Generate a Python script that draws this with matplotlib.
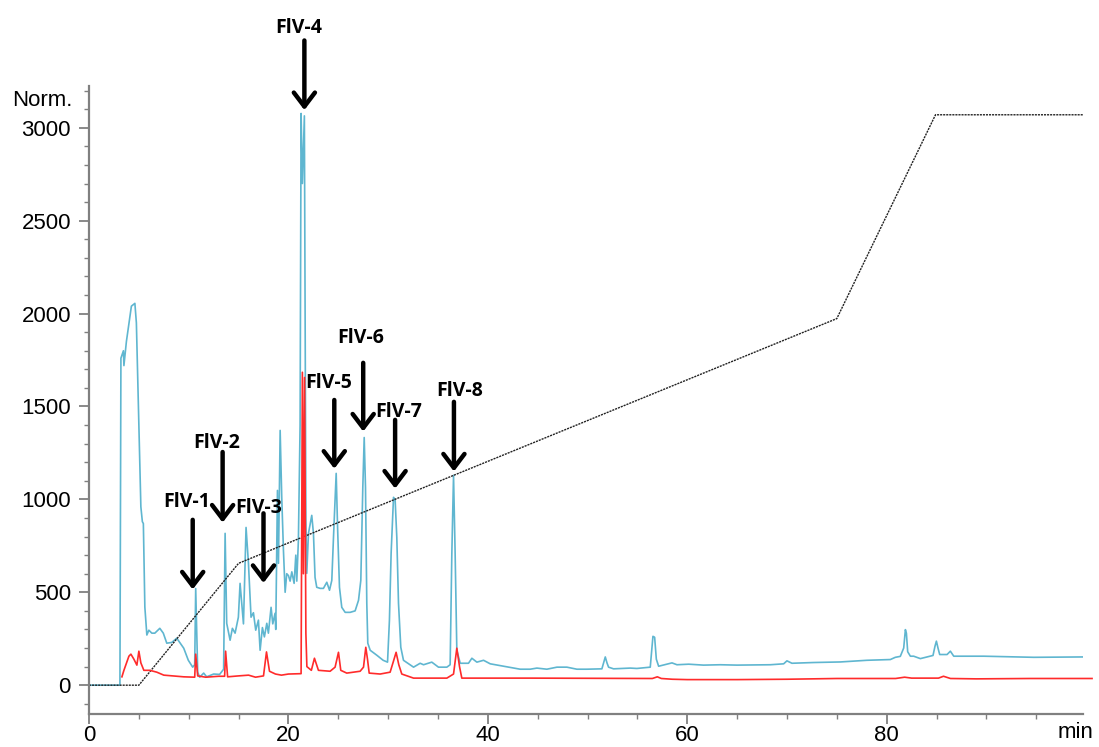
import matplotlib

matplotlib.use("Agg")
import matplotlib.pyplot as plt
from matplotlib.ticker import MultipleLocator

# detector trace 1 (cyan), time in min / signal in Norm.
cyan_time = [
    0.0, 3.1, 3.2, 3.45, 3.5, 3.75, 4.25, 4.6, 4.75, 5.0, 5.2, 5.35, 5.45, 5.6, 5.8,
    6.0, 6.3, 6.6, 7.1, 7.45, 7.8, 8.3, 8.8, 9.5, 9.96, 10.4, 10.6, 10.7, 10.9, 11.1,
    11.5, 11.8, 12.5, 13.1, 13.5, 13.65, 13.81, 14.15, 14.38, 14.65, 14.98, 15.15, 15.32,
    15.49, 15.75, 15.99, 16.25, 16.49, 16.72, 16.99, 17.16, 17.39, 17.59, 17.83, 17.99,
    18.26, 18.43, 18.66, 18.73, 18.9, 19.0, 19.17, 19.33, 19.5, 19.67, 19.83, 20.0, 20.17,
    20.34, 20.57, 20.74, 20.84, 21.0, 21.17, 21.27, 21.4, 21.6, 21.75, 21.84, 22.01,
    22.34, 22.51, 22.67, 22.84, 23.18, 23.51, 23.85, 24.12, 24.35, 24.52, 24.79, 24.93,
    25.12, 25.35, 25.69, 26.19, 26.69, 27.03, 27.26, 27.46, 27.6, 27.73, 27.86, 27.96,
    28.2, 28.87, 29.5, 29.94, 30.13, 30.3, 30.54, 30.7, 30.87, 31.04, 31.27, 31.54,
    32.55, 33.21, 33.55, 34.38, 35.05, 35.89, 36.22, 36.39, 36.56, 36.72, 36.89, 37.23,
    38.06, 38.4, 38.9, 39.57, 40.24, 41.57, 43.24, 44.25, 44.92, 45.92, 46.93, 47.93,
    48.93, 49.94, 51.44, 51.61, 51.78, 51.95, 52.11, 52.61, 54.28, 54.95, 56.29, 56.46,
    56.56, 56.73, 56.9, 57.13, 58.47, 58.97, 60.14, 61.64, 63.31, 64.99, 68.33, 69.67,
    70.0, 70.5, 72.68, 75.35, 78.03, 80.37, 80.87, 81.37, 81.71, 81.88, 81.98, 82.11,
    82.38, 82.71, 83.38, 84.65, 84.85, 84.99, 85.15, 85.32, 86.06, 86.39, 86.73, 89.74,
    94.76, 99.7,
]
cyan_signal = [
    0, 0, 1760, 1800, 1720, 1850, 2040, 2055, 1950, 1400, 960, 880, 870, 420, 270,
    296, 280, 280, 306, 280, 226, 230, 253, 199, 134, 97, 110, 520, 70, 43,
    65, 45, 60, 58, 86, 817, 333, 242, 306, 280, 366, 548, 441,
    330, 849, 656, 366, 390, 296, 350, 188, 310, 260, 333, 280,
    419, 330, 387, 300, 1048, 656, 1371, 1011, 726, 500, 600, 590, 560,
    610, 548, 700, 560, 780, 1400, 3077, 2700, 3064, 900, 602, 817,
    914, 817, 580, 527, 521, 521, 554, 511, 564, 796, 1140, 849,
    527, 419, 392, 392, 400, 457, 564, 1064, 1333, 1064, 441, 226,
    188, 161, 134, 124, 349, 710, 1011, 1000, 796, 441, 204, 134,
    97, 118, 110, 124, 97, 97, 110, 710, 1129, 710, 188, 118,
    118, 145, 124, 134, 115, 102, 86, 86, 92, 86, 97, 97,
    86, 86, 88, 120, 152, 120, 97, 88, 92, 90, 97, 200,
    263, 258, 140, 102, 120, 110, 113, 108, 110, 108, 110, 115,
    131, 118, 122, 125, 134, 138, 150, 155, 200, 299, 280, 180,
    156, 156, 143, 160, 210, 237, 200, 165, 165, 183, 156, 156,
    150, 152,
]

# detector trace 2 (red)
red_time = [
    3.3, 3.5, 4.0, 4.2, 4.5, 4.8, 5.0, 5.2, 5.5, 6.1, 6.8, 7.5, 9.5, 10.6, 10.7, 10.9,
    11.7, 13.0, 13.6, 13.7, 13.9, 15.0, 16.0, 16.7, 17.5, 17.8, 18.1, 18.7, 19.3, 20.0,
    21.27, 21.4, 21.5, 21.62, 21.75, 21.85, 22.3, 22.61, 23.01, 24.18, 24.68, 25.02,
    25.25, 25.85, 27.19, 27.53, 27.76, 27.93, 28.1, 29.2, 30.2, 30.54, 30.8, 31.07,
    31.37, 32.55, 35.89, 36.56, 36.89, 37.16, 37.39, 44.25, 56.5, 57.0, 57.4, 58.5,
    60.0, 65.0, 70.0, 75.0, 80.9, 81.8, 82.5, 85.2, 85.7, 86.4, 89.0, 94.4, 100.6,
]
red_signal = [
    45, 80, 156, 167, 140, 108, 183, 120, 80, 80, 70, 54, 45, 43, 167, 50,
    43, 48, 48, 183, 45, 50, 54, 43, 50, 179, 75, 60, 54, 60,
    62, 1684, 600, 1656, 280, 100, 80, 145, 80, 75, 97, 177,
    80, 65, 75, 97, 204, 140, 65, 60, 70, 130, 177, 110,
    60, 38, 38, 60, 199, 100, 38, 38, 36, 45, 36, 32,
    30, 30, 32, 36, 36, 43, 38, 38, 48, 36, 34, 36, 36,
]

# solvent gradient (black dotted)
gradient_time = [0.0, 5.0, 15.0, 75.0, 84.9, 99.8]
gradient_level = [0, 0, 656, 1973, 3070, 3070]

# fraction labels: (label, text x, text y, arrow x, arrow top, arrow tip)
fractions = [
    ("FlV-1", 9.8, 984, 10.4, 890, 515),
    ("FlV-2", 12.8, 1306, 13.4, 1255, 875),
    ("FlV-3", 17.0, 952, 17.5, 925, 550),
    ("FlV-4", 21.0, 3537, 21.6, 3470, 3095),
    ("FlV-5", 24.0, 1624, 24.6, 1535, 1165),
    ("FlV-6", 27.2, 1866, 27.5, 1735, 1365),
    ("FlV-7", 31.1, 1473, 30.7, 1428, 1058),
    ("FlV-8", 37.2, 1581, 36.6, 1525, 1150),
]

x_ticks = [0, 20, 40, 60, 80]
y_ticks = [0, 500, 1000, 1500, 2000, 2500, 3000]

plt.rcParams["font.family"] = ["Liberation Sans", "DejaVu Sans"]

fig = plt.figure(figsize=(10.99, 7.47), dpi=100)
ax = fig.add_axes([0.081, 0.0442, 0.9045, 0.8407])

ax.plot(cyan_time, cyan_signal, color="#5fb6d0", linewidth=1.2)
ax.plot(gradient_time, gradient_level, color="#222222", linewidth=1.0, linestyle=(0, (1.5, 0.7)))
ax.plot(red_time, red_signal, color="#ff2b2b", linewidth=1.2, clip_on=False)

for label, tx, ty, ax_x, top, tip in fractions:
    ax.text(tx, ty, label, ha="center", va="center", fontsize=14, fontweight="bold",
            family=["Open Sans", "DejaVu Sans"], clip_on=False)
    ax.annotate(
        "", xy=(ax_x, tip), xytext=(ax_x, top), annotation_clip=False,
        arrowprops=dict(arrowstyle="->,head_length=0.5,head_width=0.38", color="black",
                        lw=3.2, mutation_scale=20, shrinkA=0, shrinkB=0),
    )

ax.set_xlim(0, 99.7)
ax.set_ylim(-155, 3225)
ax.set_xticks(x_ticks)
ax.set_yticks(y_ticks)
ax.xaxis.set_minor_locator(MultipleLocator(5))
ax.yaxis.set_minor_locator(MultipleLocator(100))

for side in ("top", "right"):
    ax.spines[side].set_visible(False)
for side in ("left", "bottom"):
    ax.spines[side].set_color("#808080")
    ax.spines[side].set_linewidth(1.6)

ax.tick_params(which="major", length=7, width=1.3, color="#808080", labelsize=16)
ax.tick_params(which="minor", length=3.5, width=1.0, color="#808080")
ax.tick_params(axis="y", which="major", pad=6)
ax.tick_params(axis="x", which="major", pad=1)

fig.text(72 / 1099, 1 - 100 / 747, "Norm.", ha="right", va="center", fontsize=16)
fig.text(1093 / 1099, 1 - 733 / 747, "min", ha="right", va="center", fontsize=16)

fig.savefig("out.png", dpi=100)
